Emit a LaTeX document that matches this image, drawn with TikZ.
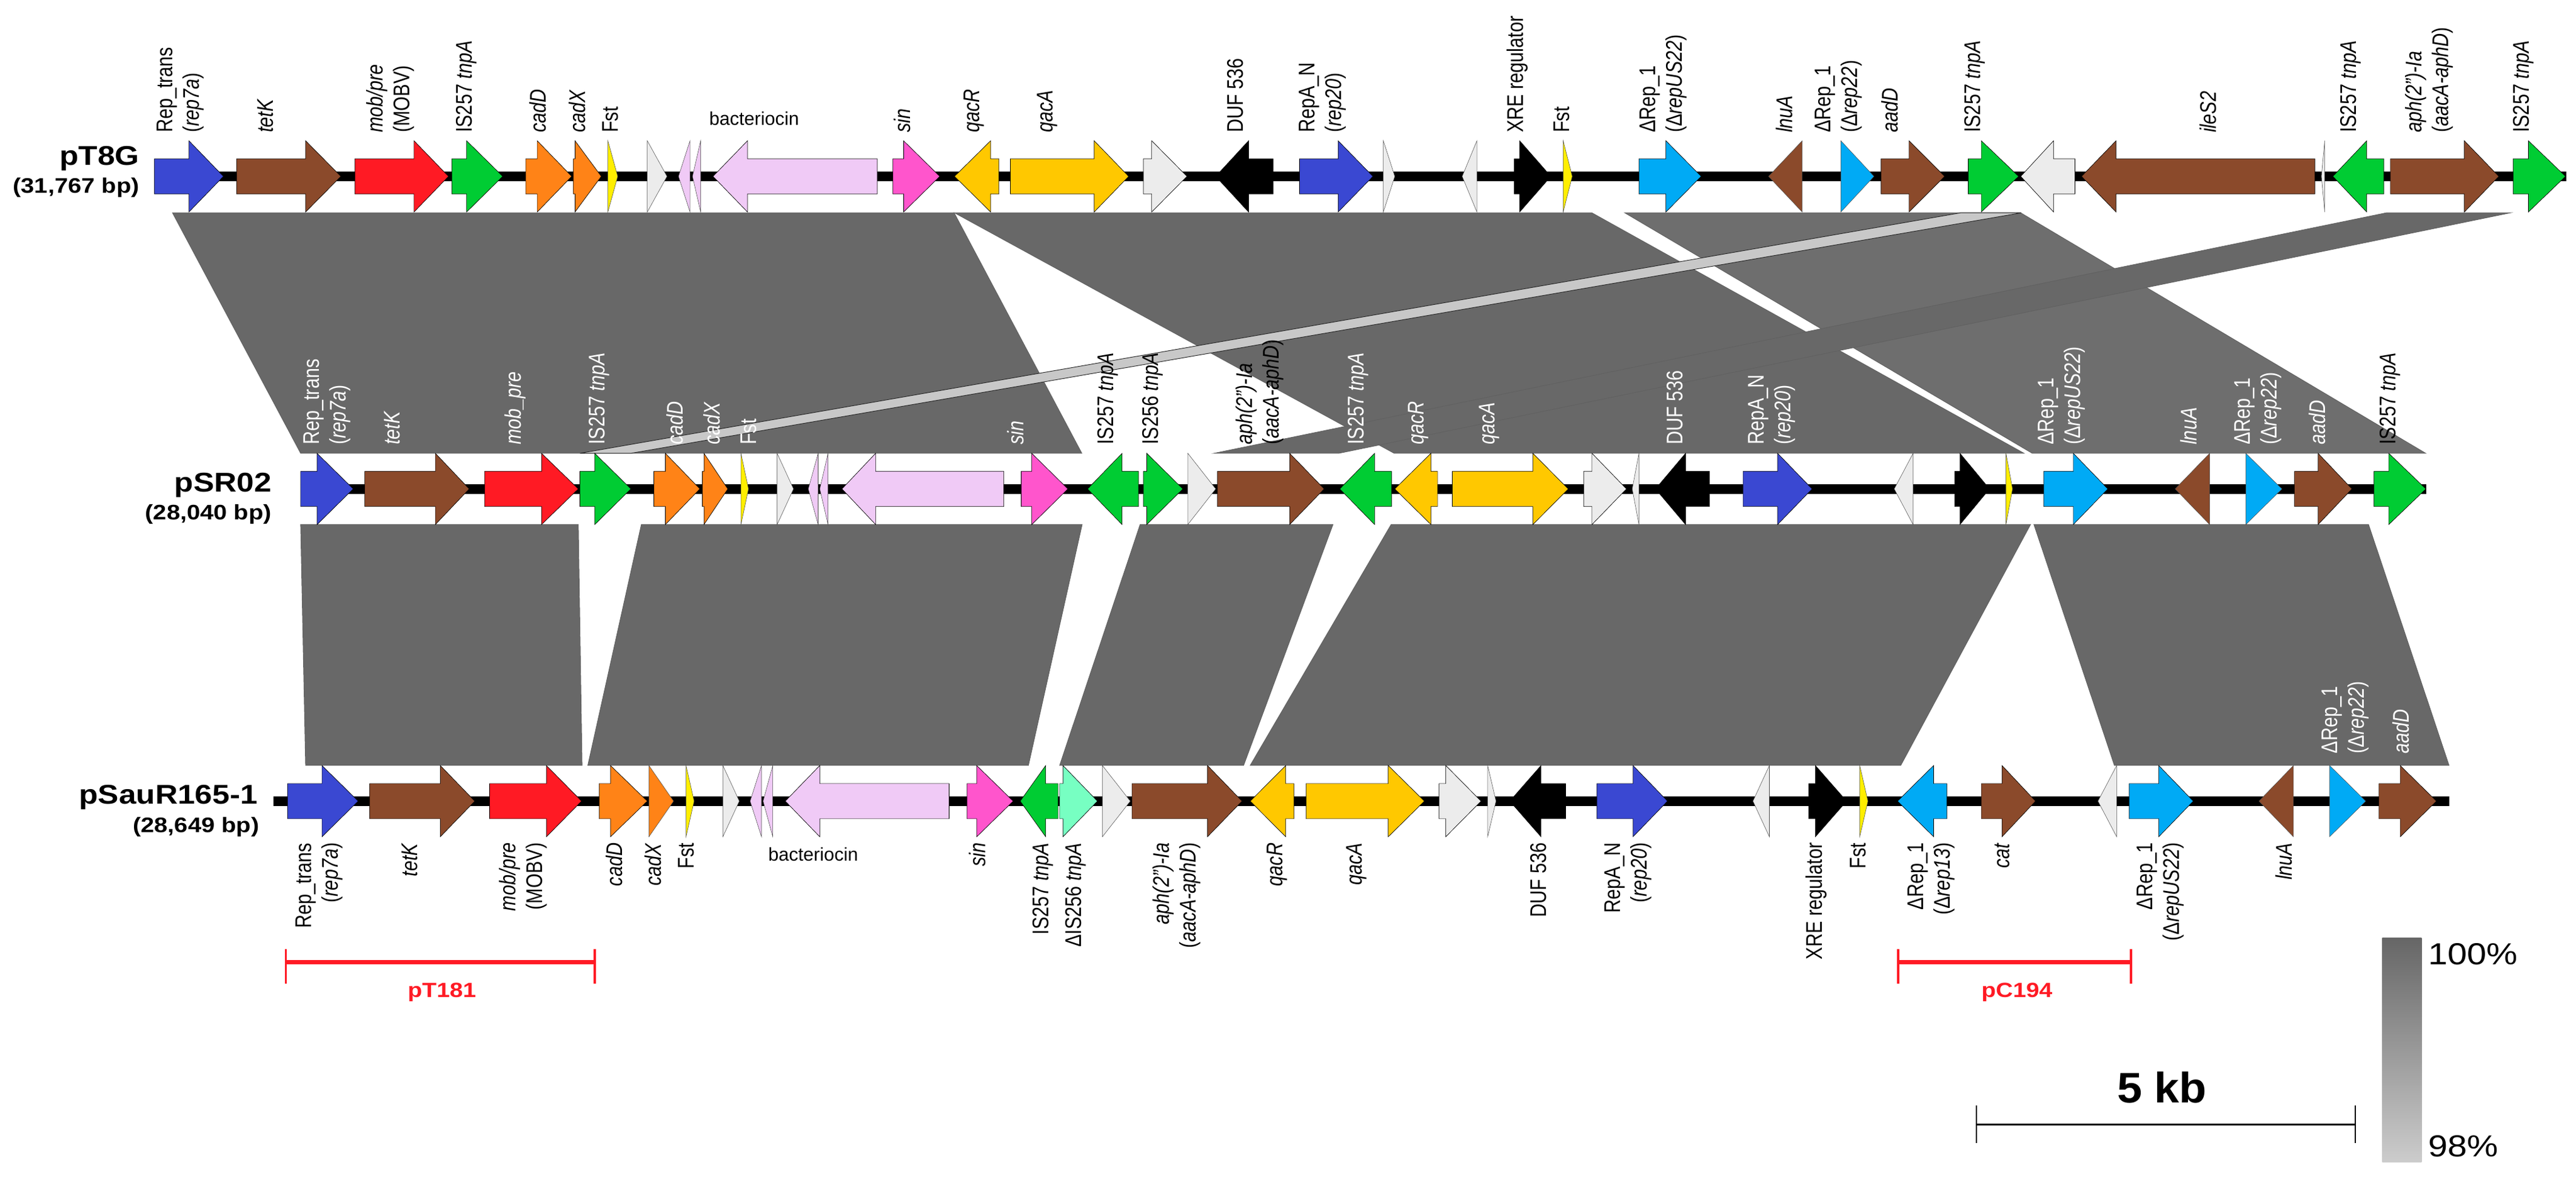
\documentclass[tikz,border=0pt]{standalone}
\usepackage{fontspec}
\setmainfont{Liberation Sans}
\usepackage{graphicx}
\definecolor{gblue}{HTML}{3A48D2}
\definecolor{gbrown}{HTML}{8B4A2B}
\definecolor{gred}{HTML}{FF1A24}
\definecolor{ggreen}{HTML}{00CC33}
\definecolor{gorange}{HTML}{FF8317}
\definecolor{gyellow}{HTML}{FFEE00}
\definecolor{ggray}{HTML}{ECECEC}
\definecolor{gpink}{HTML}{F0CAF6}
\definecolor{gmag}{HTML}{FF55CC}
\definecolor{ggold}{HTML}{FFC800}
\definecolor{glblue}{HTML}{00AAF5}
\definecolor{gaqua}{HTML}{77FFC2}
\definecolor{band}{HTML}{686868}
\definecolor{bandc}{HTML}{6E6E6E}
\definecolor{bandl}{HTML}{C8C8C8}
\definecolor{lgtop}{HTML}{666666}
\definecolor{lgbot}{HTML}{CCCCCC}
\newcommand\g[5]{\filldraw[fill=#5,draw=black,line width=.25pt] (#1,#4-10.7) -- (#2,#4-10.7) -- (#2,#4-21.7) -- (#3,#4) -- (#2,#4+21.7) -- (#2,#4+10.7) -- (#1,#4+10.7) -- cycle;}
\newcommand\gT[4]{\filldraw[fill=#4,draw=black!70,line width=.2pt] (#1,#3-21.7) -- (#2,#3) -- (#1,#3+21.7) -- cycle;}
\newcommand\labfont{\fontsize{11.3}{13.3}\selectfont}
\newcommand\lt[1]{\scalebox{1}[1.22]{\begin{tabular}{@{}l@{}}#1\end{tabular}}}
\newcommand\ltr[1]{\scalebox{1}[1.22]{\begin{tabular}{@{}r@{}}#1\end{tabular}}}
\newcommand\hs[1]{\scalebox{1.22}[1]{#1}}
\newcommand\ns[1]{\scalebox{1.15}[1]{#1}}
\newcommand\dq{\symbol{"22}}
\begin{document}
\begin{tikzpicture}[x=1pt,y=-1pt,
  up/.style={rotate=90,anchor=west,inner sep=0pt,font=\labfont},
  dn/.style={rotate=90,anchor=east,inner sep=0pt,font=\labfont},
  wt/.style={text=white},
  bnd/.style={fill=band,draw=black!62,line width=.35pt},
  trk/.style={line width=5.8pt,black},
  nm/.style={anchor=base east,inner sep=0pt,font=\bfseries\fontsize{16.5}{18}\selectfont},
  bp/.style={anchor=base east,inner sep=0pt,font=\bfseries\fontsize{12.8}{14}\selectfont},
  redbar/.style={gred,line width=2.6pt},
  redtick/.style={gred,line width=1.4pt}]
\useasboundingbox (0,0) rectangle (1568,716.3);
\fill[white] (0,0) rectangle (1568,716.3);
% ---------- bands 1-2
\path[bnd] (105,129.6) -- (580.8,129.6) -- (658.5,276) -- (183,276) -- cycle;
\path[bnd] (581,129.6) -- (969,129.6) -- (1232,276) -- (848.6,276) -- cycle;
\path[bnd,fill=bandc] (989,129.6) -- (1230,129.6) -- (1476.5,276) -- (1237,276) -- cycle;
\path[bnd] (1452.5,129.6) -- (1528,129.6) -- (815,276) -- (739,276) -- cycle;
\path[fill=bandl,draw=black!85,line width=.35pt] (1193.4,129.6) -- (1230.3,129.6) -- (384,276) -- (353,276) -- cycle;
% ---------- bands 2-3
\path[bnd] (183,319.3) -- (352,319.3) -- (354.3,466) -- (186,466) -- cycle;
\path[bnd] (390.4,319.3) -- (658.7,319.3) -- (626,466) -- (357.8,466) -- cycle;
\path[bnd] (694,319.3) -- (811.4,319.3) -- (757,466) -- (645,466) -- cycle;
\path[bnd] (846.8,319.3) -- (1236,319.3) -- (1157,466) -- (761,466) -- cycle;
\path[bnd] (1238,319.3) -- (1441.7,319.3) -- (1490.7,466) -- (1287,466) -- cycle;
% ---------- track lines
\draw[trk] (94,107.4) -- (1562,107.4);
\draw[trk] (183,297.7) -- (1477,297.7);
\draw[trk] (166.5,487.8) -- (1491,487.8);
% ---------- track 1 genes
\def\Y{107.4}
\g{94}{115}{136}{\Y}{gblue}
\g{144}{186}{207.5}{\Y}{gbrown}
\g{216}{252}{273}{\Y}{gred}
\g{275}{284}{306}{\Y}{ggreen}
\g{320}{327}{348}{\Y}{gorange}
\g{349}{350}{366}{\Y}{gorange}
\gT{370}{376}{\Y}{gyellow}
\gT{394}{406}{\Y}{ggray}
\gT{420}{413}{\Y}{gpink}
\gT{426.5}{421.5}{\Y}{gpink}
\g{534}{455}{434}{\Y}{gpink}
\g{543.5}{550}{572}{\Y}{gmag}
\g{608}{603}{581}{\Y}{ggold}
\g{615}{666}{687}{\Y}{ggold}
\g{696}{701}{722.5}{\Y}{ggray}
\g{775}{760}{740}{\Y}{black}
\g{791}{814.5}{835.7}{\Y}{gblue}
\gT{842}{849}{\Y}{ggray}
\gT{899}{890}{\Y}{ggray}
\g{921.7}{925}{944}{\Y}{black}
\gT{951.5}{957}{\Y}{gyellow}
\g{997.6}{1014}{1035.5}{\Y}{glblue}
\gT{1097}{1076.5}{\Y}{gbrown}
\gT{1120.5}{1140.7}{\Y}{glblue}
\g{1145}{1162}{1183.7}{\Y}{gbrown}
\g{1198}{1206}{1228.7}{\Y}{ggreen}
\g{1263}{1250}{1230}{\Y}{ggray}
\g{1409}{1288}{1267}{\Y}{gbrown}
\gT{1415}{1413}{\Y}{ggray}
\g{1451}{1440.6}{1420}{\Y}{ggreen}
\g{1455}{1500}{1521}{\Y}{gbrown}
\g{1529.7}{1539}{1561.6}{\Y}{ggreen}
% ---------- track 2 genes
\def\Y{297.7}
\g{183}{193}{215}{\Y}{gblue}
\g{222}{265}{285.6}{\Y}{gbrown}
\g{295}{329.6}{352}{\Y}{gred}
\g{353}{362}{384}{\Y}{ggreen}
\g{398}{405}{426}{\Y}{gorange}
\g{427.5}{428.5}{443}{\Y}{gorange}
\gT{451}{455.6}{\Y}{gyellow}
\gT{473}{483}{\Y}{ggray}
\gT{498}{492}{\Y}{gpink}
\gT{504}{499}{\Y}{gpink}
\g{611}{533}{512.5}{\Y}{gpink}
\g{621.6}{628}{650}{\Y}{gmag}
\g{693}{683}{662}{\Y}{ggreen}
\g{696}{698}{720}{\Y}{ggreen}
\gT{723}{740}{\Y}{ggray}
\g{741}{785}{806}{\Y}{gbrown}
\g{847}{836.7}{815.5}{\Y}{ggreen}
\g{875}{871}{849}{\Y}{ggold}
\g{884}{933}{954.6}{\Y}{ggold}
\g{964}{969}{990}{\Y}{ggray}
\gT{997.6}{993.5}{\Y}{ggray}
\g{1040.6}{1026}{1007.7}{\Y}{black}
\g{1061}{1082}{1103}{\Y}{gblue}
\gT{1164.5}{1153}{\Y}{ggray}
\g{1189.8}{1193}{1211}{\Y}{black}
\gT{1221}{1225}{\Y}{gyellow}
\g{1244}{1262}{1283}{\Y}{glblue}
\gT{1345}{1324}{\Y}{gbrown}
\gT{1367}{1389}{\Y}{glblue}
\g{1396.6}{1411}{1431.6}{\Y}{gbrown}
\g{1445}{1454}{1476.6}{\Y}{ggreen}
% ---------- track 3 genes
\def\Y{487.8}
\g{175}{196}{218}{\Y}{gblue}
\g{225}{268}{289}{\Y}{gbrown}
\g{298}{332.6}{354}{\Y}{gred}
\g{364.7}{371.6}{394}{\Y}{gorange}
\gT{395}{410}{\Y}{gorange}
\gT{417.6}{422.5}{\Y}{gyellow}
\gT{440}{450}{\Y}{ggray}
\gT{463.5}{456.6}{\Y}{gpink}
\gT{470.4}{464.5}{\Y}{gpink}
\g{577.7}{499}{478}{\Y}{gpink}
\g{588.6}{594.5}{616.7}{\Y}{gmag}
\g{644}{636.5}{621}{\Y}{ggreen}
\g{645}{647}{668}{\Y}{gaqua}
\gT{671}{688}{\Y}{ggray}
\g{689}{735}{756}{\Y}{gbrown}
\g{787.6}{782.6}{761}{\Y}{ggold}
\g{795}{845}{867}{\Y}{ggold}
\g{876}{880}{901.5}{\Y}{ggray}
\gT{905.5}{910.6}{\Y}{ggray}
\g{953}{938}{919}{\Y}{black}
\g{972}{994}{1015}{\Y}{gblue}
\gT{1077}{1067}{\Y}{ggray}
\g{1101}{1105}{1124}{\Y}{black}
\gT{1132}{1137}{\Y}{gyellow}
\g{1185}{1177}{1155}{\Y}{glblue}
\g{1206}{1218.6}{1239}{\Y}{gbrown}
\gT{1288.4}{1277}{\Y}{ggray}
\g{1296}{1314}{1335}{\Y}{glblue}
\gT{1396}{1375}{\Y}{gbrown}
\gT{1418}{1440}{\Y}{glblue}
\g{1448}{1461}{1483}{\Y}{gbrown}
% ---------- names
\node[nm] (n1) at (85,100.5) {\ns{pT8G}};
\node[bp] (b1) at (85,117.5) {\ns{(31,767 bp)}};
\node[nm] (n2) at (165.5,299.5) {\ns{pSR02}};
\node[bp] (b2) at (165.5,316.5) {\ns{(28,040 bp)}};
\node[nm] (n3) at (157,489.4) {\ns{pSauR165-1}};
\node[bp] (b3) at (158,506.7) {\ns{(28,649 bp)}};
% ---------- track 1 labels
\def\Y{81}
\node[up] (a1) at (110,\Y) {\lt{Rep\_trans\\(\textit{rep7a})}};
\node[up] (a2) at (163,\Y) {\lt{\textit{tetK}}};
\node[up] (a3) at (238,\Y) {\lt{\textit{mob/pre}\\(MOBV)}};
\node[up] (a4) at (284,\Y) {\lt{IS257 \textit{tnpA}}};
\node[up] (a5) at (329,\Y) {\lt{\textit{cadD}}};
\node[up] (a6) at (353,\Y) {\lt{\textit{cadX}}};
\node[up] (a7) at (373,\Y) {\lt{Fst}};
\node[font=\labfont,inner sep=0pt] (a8) at (459,72) {bacteriocin};
\node[up] (a9) at (551,\Y) {\lt{\textit{sin}}};
\node[up] (a10) at (593,\Y) {\lt{\textit{qacR}}};
\node[up] (a11) at (637.5,\Y) {\lt{\textit{qacA}}};
\node[up] (a12) at (753.6,\Y) {\lt{DUF 536}};
\node[up] (a13) at (805,\Y) {\lt{RepA\_N\\(\textit{rep20})}};
\node[up] (a14) at (924,\Y) {\lt{XRE regulator}};
\node[up] (a15) at (952,\Y) {\lt{Fst}};
\node[up] (a16) at (1012.5,\Y) {\lt{ΔRep\_1\\(Δ\textit{repUS22})}};
\node[up] (a17) at (1087.6,\Y) {\lt{\textit{lnuA}}};
\node[up] (a18) at (1119,\Y) {\lt{ΔRep\_1\\(Δ\textit{rep22})}};
\node[up] (a19) at (1152,\Y) {\lt{\textit{aadD}}};
\node[up] (a20) at (1202,\Y) {\lt{IS257 \textit{tnpA}}};
\node[up] (a21) at (1345.6,\Y) {\lt{\textit{ileS2}}};
\node[up] (a22) at (1431,\Y) {\lt{IS257 \textit{tnpA}}};
\node[up] (a23) at (1479,\Y) {\lt{\textit{aph(2\dq)-Ia}\\(\textit{aacA-aphD})}};
\node[up] (a24) at (1536,\Y) {\lt{IS257 \textit{tnpA}}};
% ---------- track 2 labels
\def\Y{271}
\node[up,wt] (c1) at (199,\Y) {\lt{Rep\_trans\\(\textit{rep7a})}};
\node[up,wt] (c2) at (240,\Y) {\lt{\textit{tetK}}};
\node[up,wt] (c3) at (314,\Y) {\lt{\textit{mob\_pre}}};
\node[up,wt] (c4) at (365,\Y) {\lt{IS257 \textit{tnpA}}};
\node[up,wt] (c5) at (412.6,\Y) {\lt{\textit{cadD}}};
\node[up,wt] (c6) at (435,\Y) {\lt{\textit{cadX}}};
\node[up,wt] (c7) at (457,\Y) {\lt{Fst}};
\node[up,wt] (c8) at (620,\Y) {\lt{\textit{sin}}};
\node[up] (c9) at (674.5,\Y) {\lt{IS257 \textit{tnpA}}};
\node[up] (c10) at (701.7,\Y) {\lt{IS256 \textit{tnpA}}};
\node[up] (c11) at (767,\Y) {\lt{\textit{aph(2\dq)-Ia}\\(\textit{aacA-aphD})}};
\node[up,wt] (c12) at (827,\Y) {\lt{IS257 \textit{tnpA}}};
\node[up,wt] (c13) at (863.5,\Y) {\lt{\textit{qacR}}};
\node[up,wt] (c14) at (906.5,\Y) {\lt{\textit{qacA}}};
\node[up,wt] (c15) at (1021,\Y) {\lt{DUF 536}};
\node[up,wt] (c16) at (1078.5,\Y) {\lt{RepA\_N\\(\textit{rep20})}};
\node[up,wt] (c17) at (1255,\Y) {\lt{ΔRep\_1\\(Δ\textit{repUS22})}};
\node[up,wt] (c18) at (1334,\Y) {\lt{\textit{lnuA}}};
\node[up,wt] (c19) at (1374.5,\Y) {\lt{ΔRep\_1\\(Δ\textit{rep22})}};
\node[up,wt] (c20) at (1412,\Y) {\lt{\textit{aadD}}};
\node[up] (c21) at (1455,\Y) {\lt{IS257 \textit{tnpA}}};
% ---------- track 3 labels
\def\Y{513}
\node[dn] (d1) at (194.5,\Y) {\ltr{Rep\_trans\\(\textit{rep7a})}};
\node[dn] (d2) at (251,\Y) {\ltr{\textit{tetK}}};
\node[dn] (d3) at (318.6,\Y) {\ltr{\textit{mob/pre}\\(MOBV)}};
\node[dn] (d4) at (375.6,\Y) {\ltr{\textit{cadD}}};
\node[dn] (d5) at (399,\Y) {\ltr{\textit{cadX}}};
\node[dn] (d6) at (419,\Y) {\ltr{Fst}};
\node[font=\labfont,inner sep=0pt] (d7) at (495,520) {bacteriocin};
\node[dn] (d8) at (596.5,\Y) {\ltr{\textit{sin}}};
\node[dn] (d9) at (635,\Y) {\ltr{IS257 \textit{tnpA}}};
\node[dn] (d10) at (654.8,\Y) {\ltr{ΔIS256 \textit{tnpA}}};
\node[dn] (d11) at (716.5,\Y) {\ltr{\textit{aph(2\dq)-Ia}\\(\textit{aacA-aphD})}};
\node[dn] (d12) at (777.5,\Y) {\ltr{\textit{qacR}}};
\node[dn] (d13) at (825.6,\Y) {\ltr{\textit{qacA}}};
\node[dn] (d14) at (938,\Y) {\ltr{DUF 536}};
\node[dn] (d15) at (991,\Y) {\ltr{RepA\_N\\(\textit{rep20})}};
\node[dn] (d16) at (1106,\Y) {\ltr{XRE regulator}};
\node[dn] (d17) at (1132.6,\Y) {\ltr{Fst}};
\node[dn] (d18) at (1175.5,\Y) {\ltr{ΔRep\_1\\(Δ\textit{rep13})}};
\node[dn] (d19) at (1220,\Y) {\ltr{\textit{cat}}};
\node[dn] (d20) at (1315,\Y) {\ltr{ΔRep\_1\\(Δ\textit{repUS22})}};
\node[dn] (d21) at (1392,\Y) {\ltr{\textit{lnuA}}};
\node[up,wt] (d22) at (1427.5,459) {\lt{ΔRep\_1\\(Δ\textit{rep22})}};
\node[up,wt] (d23) at (1463,459) {\lt{\textit{aadD}}};
% ---------- pT181 / pC194
\coordinate (p1) at (174,586); \coordinate (p2) at (362,586);
\draw[redbar] (p1) -- (p2);
\draw[redtick] (174,578) -- (174,599); \draw[redtick] (362,578) -- (362,599);
\node[text=gred,font=\bfseries\fontsize{12.5}{14}\selectfont] (t181) at (269,604) {\ns{pT181}};
\coordinate (q1) at (1155.4,586); \coordinate (q2) at (1297,586);
\draw[redbar] (q1) -- (q2);
\draw[redtick] (1155.4,578) -- (1155.4,599); \draw[redtick] (1297,578) -- (1297,599);
\node[text=gred,font=\bfseries\fontsize{12.5}{14}\selectfont] (t194) at (1227.7,604) {\ns{pC194}};
% ---------- scale bar
\coordinate (s1) at (1203,684.7); \coordinate (s2) at (1433.6,684.7);
\draw[line width=1.3pt] (s1) -- (s2);
\draw[line width=1pt] (1203,673) -- (1203,696);
\draw[line width=1pt] (1433.6,673) -- (1433.6,696);
\node[font=\bfseries\fontsize{26}{28}\selectfont,inner sep=0pt] (kb) at (1316,662) {\scalebox{1.05}[1]{5 kb}};
% ---------- legend
\shade[top color=lgtop,bottom color=lgbot] (1450,571) rectangle (1474,707.6);
\node[anchor=west,inner sep=0pt,font=\fontsize{18.5}{20}\selectfont] (l100) at (1478,581) {\ns{100\%}};
\node[anchor=west,inner sep=0pt,font=\fontsize{18.5}{20}\selectfont] (l98) at (1478,698) {\ns{98\%}};
\end{tikzpicture}
\end{document}
